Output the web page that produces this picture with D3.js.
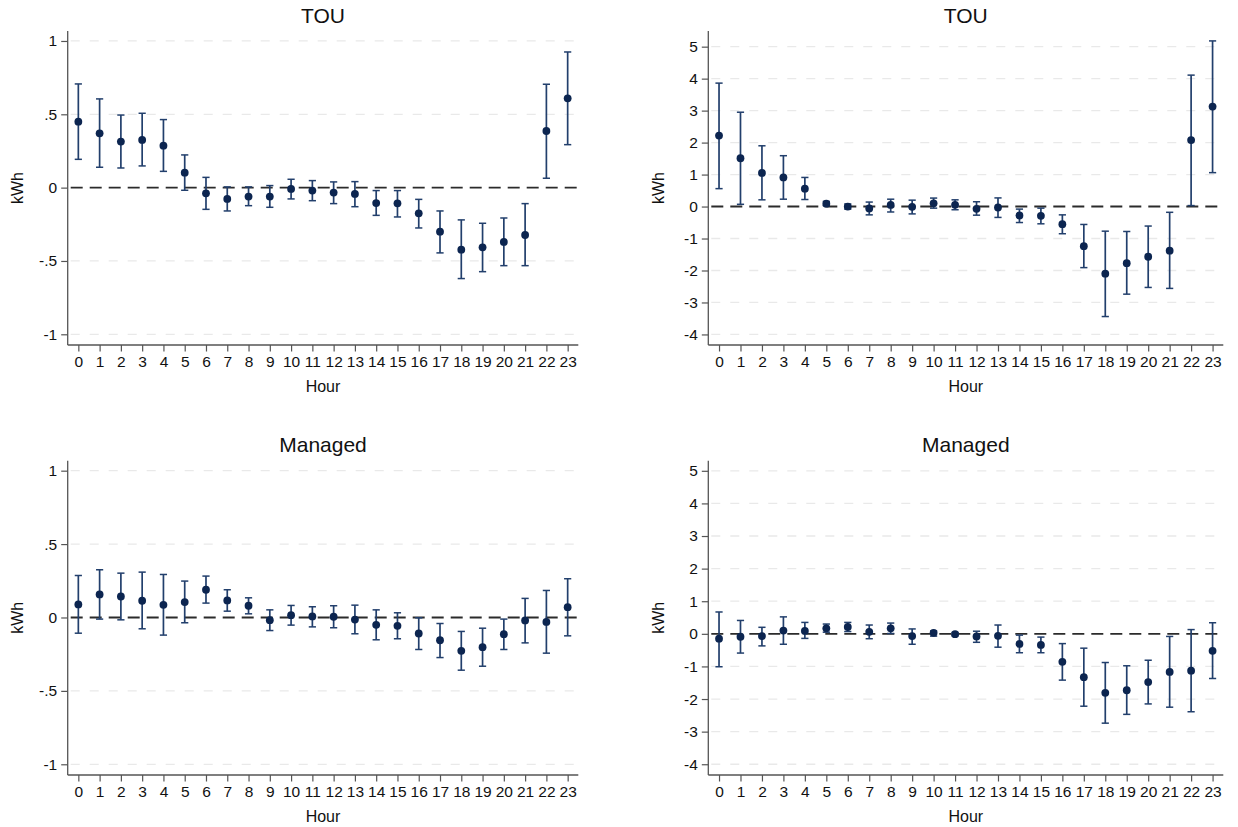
<!DOCTYPE html>
<html>
<head>
<meta charset="utf-8">
<script src="https://cdn.jsdelivr.net/npm/d3@7"></script>
<style>
  html, body { margin: 0; padding: 0; background: #fff; }
  svg { display: block; font-family: "Liberation Sans", Arial, Helvetica, sans-serif; }
</style>
</head>
<body>
<svg id="chart" width="1238" height="827"></svg>
<script>
// Hour of day (x categories)
const hours = d3.range(0, 24);

// Y-axis tick values and labels
const smallTicks = [-1, -0.5, 0, 0.5, 1];
const smallTickLabels = ["-1", "-.5", "0", ".5", "1"];
const largeTicks = [-4, -3, -2, -1, 0, 1, 2, 3, 4, 5];
const largeTickLabels = ["-4", "-3", "-2", "-1", "0", "1", "2", "3", "4", "5"];

// TOU, left panel: point estimates and confidence bounds (kWh)
const touLeftEst = [0.45, 0.37, 0.314, 0.325, 0.286, 0.102, -0.039, -0.077, -0.061, -0.061, -0.009, -0.02,
                    -0.034, -0.043, -0.105, -0.107, -0.175, -0.30, -0.423, -0.407, -0.37, -0.323, 0.386, 0.609];
const touLeftLo  = [0.193, 0.139, 0.134, 0.148, 0.111, -0.018, -0.148, -0.159, -0.123, -0.134, -0.077, -0.089,
                    -0.109, -0.13, -0.189, -0.20, -0.275, -0.445, -0.62, -0.573, -0.532, -0.532, 0.064, 0.293];
const touLeftHi  = [0.707, 0.605, 0.495, 0.507, 0.464, 0.223, 0.07, 0.005, 0.005, 0.014, 0.057, 0.048,
                    0.039, 0.041, -0.02, -0.02, -0.08, -0.159, -0.22, -0.243, -0.207, -0.109, 0.705, 0.925];

// TOU, right panel
const touRightEst = [2.22, 1.51, 1.05, 0.91, 0.56, 0.09, 0.0, -0.06, 0.05, -0.01, 0.10, 0.055,
                     -0.07, -0.03, -0.28, -0.29, -0.55, -1.24, -2.10, -1.77, -1.57, -1.38, 2.08, 3.125];
const touRightLo  = [0.56, 0.07, 0.21, 0.23, 0.22, 0.03, -0.08, -0.26, -0.17, -0.23, -0.05, -0.10,
                     -0.27, -0.34, -0.50, -0.54, -0.85, -1.91, -3.44, -2.74, -2.53, -2.56, 0.03, 1.06];
const touRightHi  = [3.86, 2.95, 1.90, 1.59, 0.91, 0.16, 0.08, 0.14, 0.23, 0.20, 0.265, 0.21,
                     0.15, 0.27, -0.08, -0.05, -0.26, -0.56, -0.77, -0.78, -0.61, -0.18, 4.11, 5.18];

// Managed, left panel
const mgdLeftEst = [0.089, 0.157, 0.143, 0.114, 0.086, 0.105, 0.189, 0.116, 0.08, -0.018, 0.016, 0.007,
                    0.005, -0.014, -0.05, -0.057, -0.109, -0.155, -0.227, -0.202, -0.114, -0.02, -0.03, 0.07];
const mgdLeftLo  = [-0.107, -0.011, -0.016, -0.077, -0.12, -0.036, 0.098, 0.043, 0.025, -0.089, -0.052, -0.064,
                    -0.07, -0.111, -0.152, -0.145, -0.218, -0.273, -0.359, -0.332, -0.218, -0.173, -0.243, -0.125];
const mgdLeftHi  = [0.286, 0.325, 0.302, 0.309, 0.293, 0.248, 0.282, 0.189, 0.134, 0.052, 0.082, 0.073,
                    0.08, 0.084, 0.052, 0.032, -0.002, -0.041, -0.095, -0.073, -0.011, 0.13, 0.184, 0.264];

// Managed, right panel
const mgdRightEst = [-0.15, -0.09, -0.07, 0.10, 0.09, 0.17, 0.21, 0.06, 0.17, -0.07, 0.03, -0.01,
                     -0.08, -0.06, -0.31, -0.34, -0.86, -1.33, -1.81, -1.73, -1.48, -1.17, -1.13, -0.52];
const mgdRightLo  = [-1.01, -0.59, -0.37, -0.32, -0.14, 0.05, 0.07, -0.15, 0.01, -0.32, -0.07, -0.06,
                     -0.26, -0.41, -0.58, -0.58, -1.42, -2.22, -2.74, -2.47, -2.15, -2.25, -2.39, -1.37];
const mgdRightHi  = [0.67, 0.41, 0.20, 0.52, 0.35, 0.30, 0.35, 0.27, 0.33, 0.15, 0.09, 0.04,
                     0.08, 0.27, -0.04, -0.10, -0.30, -0.44, -0.88, -0.98, -0.81, -0.08, 0.13, 0.34];

// Panel definitions: plot-area box, y domain, ticks, data
const panels = [
  { title: "TOU", box: { x0: 67.7, x1: 578.3, y0: 31, y1: 345 }, yDomain: [-1.073, 1.068],
    ticks: smallTicks, labels: smallTickLabels, est: touLeftEst, lo: touLeftLo, hi: touLeftHi },
  { title: "TOU", box: { x0: 708.3, x1: 1223.3, y0: 31, y1: 345 }, yDomain: [-4.33, 5.49],
    ticks: largeTicks, labels: largeTickLabels, est: touRightEst, lo: touRightLo, hi: touRightHi },
  { title: "Managed", box: { x0: 67.7, x1: 578.3, y0: 460.7, y1: 775 }, yDomain: [-1.073, 1.068],
    ticks: smallTicks, labels: smallTickLabels, est: mgdLeftEst, lo: mgdLeftLo, hi: mgdLeftHi },
  { title: "Managed", box: { x0: 708.3, x1: 1223.3, y0: 460.7, y1: 775 }, yDomain: [-4.33, 5.31],
    ticks: largeTicks, labels: largeTickLabels, est: mgdRightEst, lo: mgdRightLo, hi: mgdRightHi }
];

const svg = d3.select("#chart");
const axisColor = "#555";
const ciColor = "#223f6c";
const dotColor = "#0c2550";
const fontStack = '"Liberation Sans", Arial, Helvetica, sans-serif';

panels.forEach(p => {
  const b = p.box;
  const x = d3.scaleLinear().domain([-0.5, 23.5]).range([b.x0, b.x1]);
  const y = d3.scaleLinear().domain(p.yDomain).range([b.y1, b.y0]);
  const g = svg.append("g");

  // Horizontal grid lines
  g.selectAll("line.grid")
    .data(p.ticks.filter(t => t !== 0))
    .join("line")
    .attr("class", "grid")
    .attr("x1", b.x0 + 3).attr("x2", b.x1 - 3)
    .attr("y1", d => y(d)).attr("y2", d => y(d))
    .attr("stroke", "#e9e9e9")
    .attr("stroke-width", 1.3)
    .attr("stroke-dasharray", "9,10");

  // Zero reference line
  g.append("line")
    .attr("x1", b.x0 + 3).attr("x2", b.x1)
    .attr("y1", y(0)).attr("y2", y(0))
    .attr("stroke", "#2b2b2b")
    .attr("stroke-width", 1.9)
    .attr("stroke-dasharray", "12,7");

  // Y axis
  const yAxis = d3.axisLeft(y)
    .tickValues(p.ticks)
    .tickFormat((d, i) => p.labels[i])
    .tickSize(6.5)
    .tickPadding(4);
  const ya = g.append("g").attr("transform", `translate(${b.x0},0)`).call(yAxis);
  ya.select(".domain").attr("d", `M0,${b.y0}V${b.y1}`);

  // X axis
  const xAxis = d3.axisBottom(x)
    .tickValues(hours)
    .tickFormat(d3.format("d"))
    .tickSize(6.5)
    .tickPadding(4);
  const xa = g.append("g").attr("transform", `translate(0,${b.y1})`).call(xAxis);
  xa.select(".domain").attr("d", `M${b.x0},0H${b.x1}`);

  [ya, xa].forEach(a => {
    a.attr("font-size", null).attr("font-family", null);
    a.select(".domain").attr("stroke", axisColor).attr("stroke-width", 1.3);
    a.selectAll(".tick line").attr("stroke", axisColor).attr("stroke-width", 1.2);
    a.selectAll(".tick text").attr("fill", "#111")
      .attr("font-size", 15.5).attr("font-family", fontStack);
  });

  // Confidence intervals
  const rows = hours.map(h => ({ h, est: p.est[h], lo: p.lo[h], hi: p.hi[h] }));
  const ci = g.append("g");
  ci.selectAll("line.bar").data(rows).join("line")
    .attr("x1", d => x(d.h)).attr("x2", d => x(d.h))
    .attr("y1", d => y(d.lo)).attr("y2", d => y(d.hi))
    .attr("stroke", ciColor).attr("stroke-width", 1.7);
  ci.selectAll("line.capHi").data(rows).join("line")
    .attr("x1", d => x(d.h) - 3.6).attr("x2", d => x(d.h) + 3.6)
    .attr("y1", d => y(d.hi)).attr("y2", d => y(d.hi))
    .attr("stroke", ciColor).attr("stroke-width", 1.5);
  ci.selectAll("line.capLo").data(rows).join("line")
    .attr("x1", d => x(d.h) - 3.6).attr("x2", d => x(d.h) + 3.6)
    .attr("y1", d => y(d.lo)).attr("y2", d => y(d.lo))
    .attr("stroke", ciColor).attr("stroke-width", 1.5);

  // Point estimates
  g.append("g").selectAll("circle").data(rows).join("circle")
    .attr("cx", d => x(d.h)).attr("cy", d => y(d.est))
    .attr("r", 3.9)
    .attr("fill", dotColor);

  // Panel title
  g.append("text")
    .attr("x", (b.x0 + b.x1) / 2).attr("y", b.y0 - 8.3)
    .attr("text-anchor", "middle")
    .attr("font-size", 21).attr("fill", "#111")
    .text(p.title);

  // Axis titles
  g.append("text")
    .attr("x", (b.x0 + b.x1) / 2).attr("y", b.y1 + 46.7)
    .attr("text-anchor", "middle")
    .attr("font-size", 16).attr("fill", "#111")
    .text("Hour");
  g.append("text")
    .attr("transform", `translate(${b.x0 - 44.5},${(b.y0 + b.y1) / 2}) rotate(-90)`)
    .attr("text-anchor", "middle")
    .attr("font-size", 16).attr("fill", "#111")
    .text("kWh");
});
</script>
</body>
</html>
